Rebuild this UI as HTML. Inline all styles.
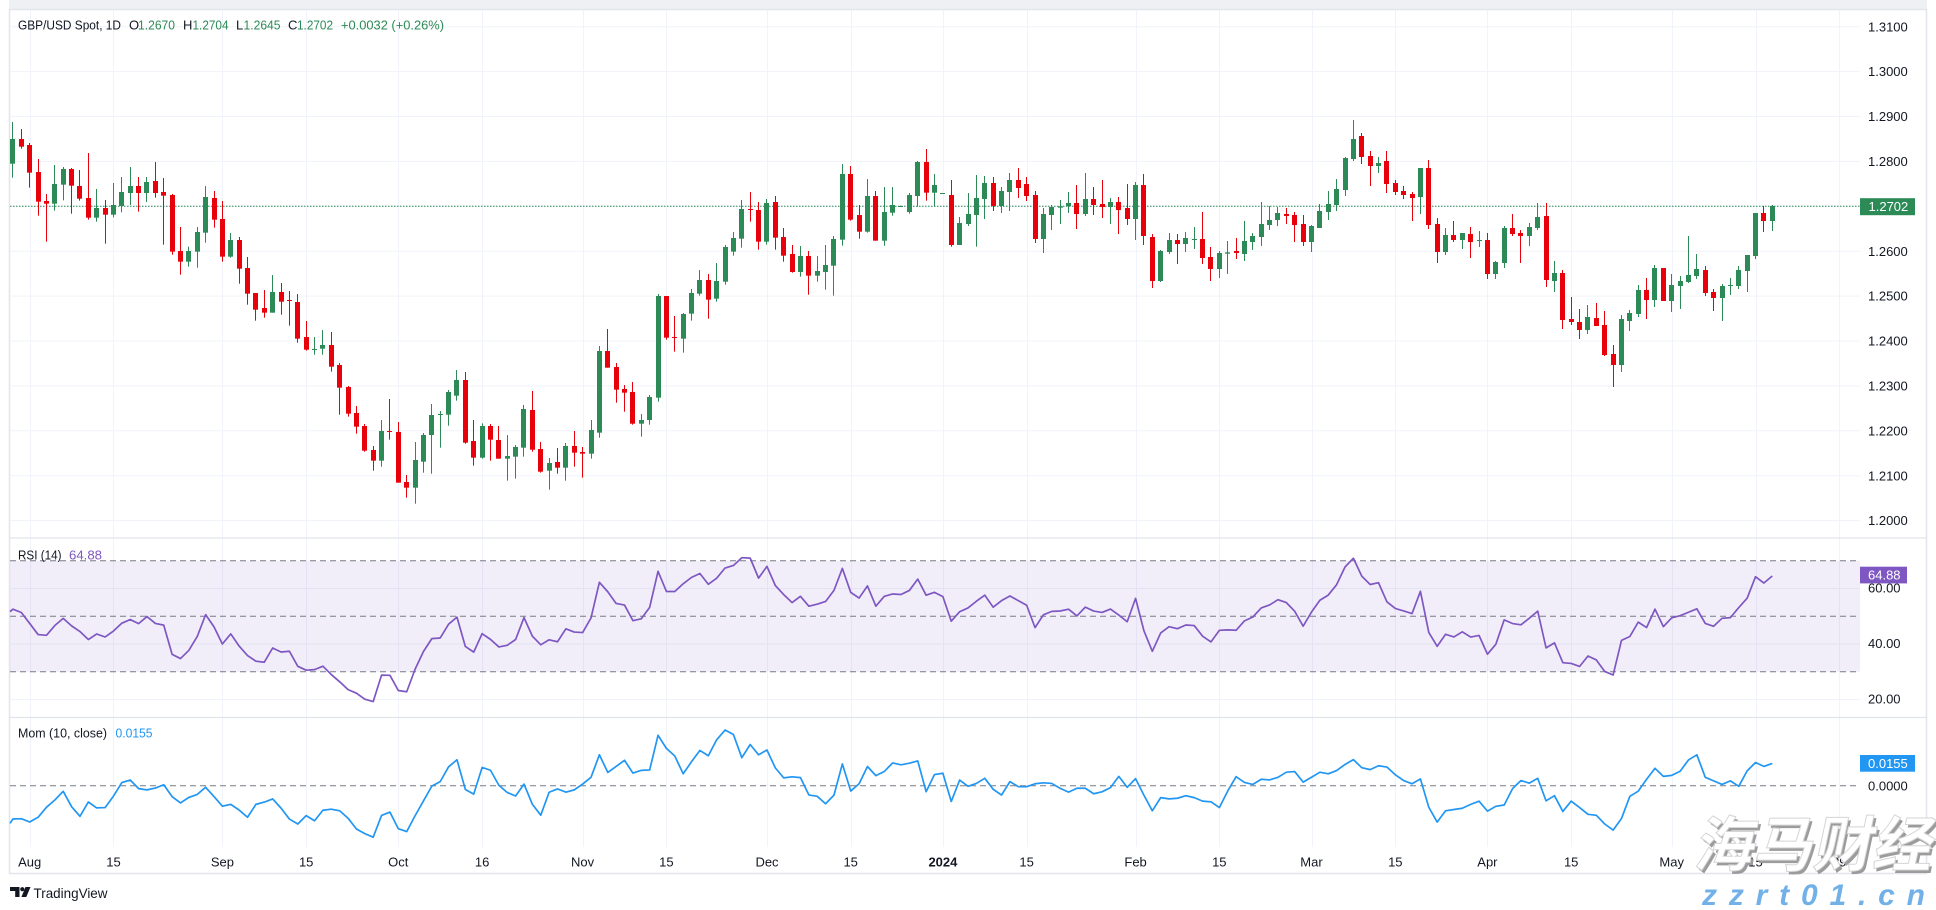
<!DOCTYPE html>
<html><head><meta charset="utf-8">
<style>
html,body{margin:0;padding:0;background:#fff;width:1936px;height:910px;overflow:hidden;}
svg{display:block;}
text{font-family:"Liberation Sans",Arial,sans-serif;}
</style></head>
<body>
<svg id="c" width="1936" height="910" viewBox="0 0 1936 910" xmlns="http://www.w3.org/2000/svg">
<rect x="0" y="0" width="1936" height="910" fill="#ffffff"/>
<!-- frame -->
<rect x="9" y="0" width="1918" height="10" fill="#eff0f4"/>
<rect x="9.5" y="9.5" width="1917" height="864" fill="#ffffff" stroke="#e3e5ec" stroke-width="1.5"/>
<g id="gridg"></g>
<!-- RSI band -->
<rect x="10" y="560.8" width="1850" height="111" fill="#7e57c2" fill-opacity="0.1"/>
<g stroke="#787b86" stroke-width="1" stroke-dasharray="6,4" fill="none">
<line x1="10" y1="560.8" x2="1860" y2="560.8"/>
<line x1="10" y1="616.3" x2="1860" y2="616.3"/>
<line x1="10" y1="671.8" x2="1860" y2="671.8"/>
<line x1="10" y1="785.7" x2="1860" y2="785.7"/>
</g>
<!-- pane separators -->
<line x1="10" y1="538" x2="1926" y2="538" stroke="#e0e3eb" stroke-width="1.2"/>
<line x1="10" y1="717.5" x2="1926" y2="717.5" stroke="#e0e3eb" stroke-width="1.2"/>
<!-- last price dotted line -->
<line x1="10" y1="206.3" x2="1860" y2="206.3" stroke="#2b8a55" stroke-width="1" stroke-dasharray="1.5,1.5"/>
<g id="dyn"></g>

<!-- header -->
<g font-size="13" fill="#131722">
<text x="18" y="29.5" textLength="103" lengthAdjust="spacingAndGlyphs">GBP/USD Spot, 1D</text>
<text x="129" y="29.5">O</text>
<text x="138" y="29.5" fill="#2b8a55" textLength="37" lengthAdjust="spacingAndGlyphs">1.2670</text>
<text x="183" y="29.5">H</text>
<text x="192.5" y="29.5" fill="#2b8a55" textLength="36" lengthAdjust="spacingAndGlyphs">1.2704</text>
<text x="236" y="29.5">L</text>
<text x="243.5" y="29.5" fill="#2b8a55" textLength="37" lengthAdjust="spacingAndGlyphs">1.2645</text>
<text x="288" y="29.5">C</text>
<text x="297" y="29.5" fill="#2b8a55" textLength="36" lengthAdjust="spacingAndGlyphs">1.2702</text>
<text x="341" y="29.5" fill="#2b8a55" textLength="103" lengthAdjust="spacingAndGlyphs">+0.0032 (+0.26%)</text>
</g>
<g font-size="13" fill="#131722">
<text x="18" y="559.5" textLength="43.5" lengthAdjust="spacingAndGlyphs">RSI (14)</text>
<text x="69" y="559.5" fill="#7e57c2" textLength="33" lengthAdjust="spacingAndGlyphs">64.88</text>
<text x="18" y="737.5" textLength="89" lengthAdjust="spacingAndGlyphs">Mom (10, close)</text>
<text x="115.5" y="737.5" fill="#2196f3" textLength="37" lengthAdjust="spacingAndGlyphs">0.0155</text>
</g>

<!-- price axis -->
<g font-size="13" fill="#131722">
<text x="1868" y="31.3">1.3100</text>
<text x="1868" y="76.2">1.3000</text>
<text x="1868" y="121.1">1.2900</text>
<text x="1868" y="166">1.2800</text>
<text x="1868" y="255.8">1.2600</text>
<text x="1868" y="300.7">1.2500</text>
<text x="1868" y="345.6">1.2400</text>
<text x="1868" y="390.5">1.2300</text>
<text x="1868" y="435.4">1.2200</text>
<text x="1868" y="480.3">1.2100</text>
<text x="1868" y="525.2">1.2000</text>
<text x="1868" y="592.4">60.00</text>
<text x="1868" y="647.9">40.00</text>
<text x="1868" y="703.4">20.00</text>
<text x="1868" y="790.3">0.0000</text>
</g>
<rect x="1860" y="198.2" width="55" height="17" fill="#2b8a55"/>
<text x="1868.5" y="211.2" font-size="13" fill="#ffffff">1.2702</text>
<rect x="1860" y="566.7" width="47" height="16.7" fill="#7e57c2"/>
<text x="1868" y="579.6" font-size="13" fill="#ffffff">64.88</text>
<rect x="1860" y="755" width="55" height="16.7" fill="#2196f3"/>
<text x="1868" y="768" font-size="13" fill="#ffffff">0.0155</text>

<!-- time axis -->
<g font-size="13" fill="#131722" text-anchor="middle">
<text x="29.7" y="866.3">Aug</text>
<text x="113.5" y="866.3">15</text>
<text x="222.4" y="866.3">Sep</text>
<text x="306.2" y="866.3">15</text>
<text x="398.3" y="866.3">Oct</text>
<text x="482.1" y="866.3">16</text>
<text x="582.6" y="866.3">Nov</text>
<text x="666.4" y="866.3">15</text>
<text x="767" y="866.3">Dec</text>
<text x="850.7" y="866.3">15</text>
<text x="942.9" y="866.3" font-weight="bold">2024</text>
<text x="1026.6" y="866.3">15</text>
<text x="1135.6" y="866.3">Feb</text>
<text x="1219.3" y="866.3">15</text>
<text x="1311.5" y="866.3">Mar</text>
<text x="1395.3" y="866.3">15</text>
<text x="1487.4" y="866.3">Apr</text>
<text x="1571.2" y="866.3">15</text>
<text x="1671.7" y="866.3">May</text>
<text x="1755.5" y="866.3">15</text>
<text x="1839.3" y="866.3">29</text>
</g>

<!-- TradingView logo -->
<g fill="#131722">
<path d="M10 887 H19.5 V897 H15.2 V891 H10 Z"/>
<circle cx="22.3" cy="889.2" r="2.1"/>
<path d="M25.5 887 H30.5 L26.3 897 H21.4 Z"/>
</g>
<text x="33.5" y="898" font-size="14" fill="#131722" textLength="74" lengthAdjust="spacingAndGlyphs">TradingView</text>

<!-- watermark -->
<g font-family="'Noto Sans CJK SC','WenQuanYi Zen Hei',sans-serif" font-size="60" font-weight="bold">
<text x="1696" y="869" fill="#9c9c9c" transform="skewX(-12) translate(184,0)" textLength="238" lengthAdjust="spacingAndGlyphs" style="font-family:'Noto Sans CJK SC','WenQuanYi Zen Hei',sans-serif">海马财经</text>
<text x="1693" y="866" fill="#ffffff" stroke="#d5d5d5" stroke-width="1" transform="skewX(-12) translate(184,0)" textLength="238" lengthAdjust="spacingAndGlyphs" style="font-family:'Noto Sans CJK SC','WenQuanYi Zen Hei',sans-serif">海马财经</text>
</g>
<text x="1702" y="905" font-size="30" font-weight="bold" font-style="italic" fill="#72b0e8" textLength="223" lengthAdjust="spacing">zzrt01.cn</text>
</svg>

<script>
(function(){
var A=[161,36,203,87, 87,57,116,110, 105,99,233,188, 186,147,317,275, 273,252,395,281, 281,165,302,222, 224,171,271,177, 177,174,311,227, 228,180,272,266, 264,129,329,323, 323,237,335,294, 294,270,401,314, 314,219,322,285, 288,201,307,246, 249,171,285,228, 228,201,305,249, 249,201,276,216, 213,156,263,249, 246,204,404,257, 255,252,434,425, 423,351,494,455, 455,410,470,423, 425,351,473,366, 368,228,398,261, 264,243,353,329, 327,273,455,440, 440,369,443,390, 390,381,521,476, 474,441,584,551, 549,549,632,599, 594,540,623,608, 608,495,608,546, 546,519,614,575, 570,543,647,572, 576,552,698,686, 681,633,722,719, 719,681,734,717, 716,660,734,705, 705,666,785,770, 765,759,914,833, 831,828,920,911, 909,888,971,950, 948,942,1025,1022, 1020,1008,1082,1052, 1052,930,1070,963, 963,867,989,965, 966,936,1118,1118, 1116,1095,1163,1133, 1133,996,1181,1050, 1055,969,1088,975, 975,882,1091,915, 914,903,1013,912, 914,840,947,846, 857,780,872,810, 810,786,1001,998, 993,930,1067,1043];
var B=[1043,940,1046,948, 948,942,1052,989, 990,948,1046,1046, 1046,975,1112,1038, 1040,1005,1106,1011, 1013,885,1040,897, 900,843,1025,1019, 1017,996,1088,1085, 1082,1044,1139,1059, 1056,1014,1091,1073, 1073,999,1112,1008, 1008,963,1070,1028, 1026,1011,1103,1031, 1031,930,1046,960, 968,708,983,723, 723,657,773,773, 771,759,878,839, 837,825,905,848, 846,816,944,941, 941,912,980,930, 930,855,944,861, 863,552,875,558, 558,558,689,683, 681,618,725,683, 686,609,728,612, 611,537,632,549, 551,480,557,510, 510,492,626,569, 566,459,575,513, 515,405,524,411, 425,366,437,384, 386,270,413,297, 297,246,335,299, 300,276,419,395, 395,267,404,279, 276,258,419,383, 381,354,455,437, 432,405,488,486, 486,408,500,438, 438,423,554,497, 497,438,515,483, 486,405,539,465, 467,378,557,387, 389,162,407,192, 192,168,332,329, 315,285,386,365, 365,207,368,258, 258,243,392,392, 392,231,407,306, 308,231,317,285, 290,287,291,288, 306,249,311,255, 258,153,290,156, 156,117,272,248, 248,192,290,225, 251,249,251,249];
var C=[285,240,440,435, 435,351,435,369, 372,279,378,342, 345,225,440,294, 297,228,357,249, 249,231,333,318, 318,261,339,273, 276,219,333,240, 240,204,294,264, 252,231,303,288, 285,273,429,417, 417,324,459,342, 345,315,390,321, 323,300,372,319, 318,276,339,309, 309,255,387,342, 342,219,348,297, 297,261,345,315, 312,240,354,321, 321,294,372,306, 306,291,402,330, 324,252,375,357, 357,246,420,255, 255,222,435,408, 411,402,564,543, 543,450,546,453, 456,399,462,420, 420,402,492,432, 432,396,456,414, 419,381,447,417, 417,336,492,474, 471,441,543,507, 507,453,534,459, 461,423,522,457, 453,414,477,459, 462,363,483,423, 426,399,450,408, 411,306,438,372, 375,318,390,360, 360,321,378,339, 342,324,372,348, 345,336,426,375, 372,345,438,426, 426,375,456,378, 384,312,384,333, 336,273,360,312, 315,237,333,267, 270,171,288,174, 177,60,183,117, 108,99,192,171, 168,153,258,198, 198,171,219,189, 183,153,279,252, 249,240,285,276, 273,258,297,285, 282,276,363,294];
var D=[291,204,342,204, 204,180,387,375, 372,354,489,456, 456,384,465,405, 405,363,426,420, 420,399,447,399, 402,381,474,426, 422,393,441,420, 420,399,537,522, 522,483,537,486, 489,378,504,384, 384,342,408,402, 399,390,489,408, 408,369,438,381, 384,309,390,351, 348,309,561,540, 543,483,576,519, 519,510,687,660, 657,591,675,666, 666,627,717,690, 690,615,702,651, 654,609,678,678, 675,633,768,765, 762,735,861,795, 795,645,816,657, 663,630,693,639, 642,555,651,570, 570,534,657,600, 600,495,621,504, 504,504,603,603, 603,522,636,555, 558,528,627,543, 546,408,549,525, 528,462,537,507, 510,498,588,579, 576,567,633,594, 594,552,663,558, 557,534,585,555, 558,498,567,510, 513,465,576,465, 468,339,477,339, 339,318,396,363, 363,315,393,318];
var chunks=[[-2,110,A],[54,110,B],[110,100,C],[166,100,D]];
var bars=[];
chunks.forEach(function(ch){
  var s=ch[0],off=ch[1],arr=ch[2];
  for(var k=0;k<arr.length/4;k++){
    var f=function(v){return off+v/3;};
    bars.push({i:s+k,o:f(arr[4*k]),h:f(arr[4*k+1]),l:f(arr[4*k+2]),c:f(arr[4*k+3])});
  }
});
var X=function(i){return 29.7+i*8.3778;};
var GREEN="#2b8a55",RED="#e8000b";
// grid
var g='';
var vIdx=[0,10,23,33,44,54,66,76,88,98,109,119,132,142,153,163,174,184,196,206,216];
vIdx.forEach(function(i){var x=Math.round(X(i))+0.5;g+='<line x1="'+x+'" y1="10" x2="'+x+'" y2="847" stroke="#f0f3fa" stroke-width="1"/>';});
for(var k=0;k<=11;k++){var y=26.7+k*44.9;g+='<line x1="10" y1="'+y.toFixed(1)+'" x2="1860" y2="'+y.toFixed(1)+'" stroke="#f0f3fa" stroke-width="1"/>';}
[588.55,644.05,699.55].forEach(function(y){g+='<line x1="10" y1="'+y+'" x2="1860" y2="'+y+'" stroke="#f0f3fa" stroke-width="1"/>';});
document.getElementById('gridg').innerHTML=g;
// candles
var s='';
bars.forEach(function(b){
  var up=b.c<b.o; var col=up?GREEN:RED;
  var left=Math.round(X(b.i)-2.5);
  var top=Math.min(b.o,b.c), h=Math.max(1,Math.abs(b.o-b.c));
  s+='<rect x="'+(left+2)+'" y="'+b.h.toFixed(2)+'" width="1" height="'+(b.l-b.h).toFixed(2)+'" fill="'+col+'"/>';
  s+='<rect x="'+left+'" y="'+top.toFixed(2)+'" width="5" height="'+h.toFixed(2)+'" fill="'+col+'"/>';
});
// RSI
var ag=13.3, al=12.0;
var rp=['10,611.7'];
var rsiY=function(r){return 616.3-(r-50)*2.775;};
rp.push(X(bars[0].i).toFixed(2)+','+rsiY(100*ag/(ag+al)).toFixed(2));
for(var n=1;n<bars.length;n++){
  var d=bars[n-1].c-bars[n].c;
  ag=(13*ag+Math.max(d,0))/14; al=(13*al+Math.max(-d,0))/14;
  rp.push(X(bars[n].i).toFixed(2)+','+rsiY(100*ag/(ag+al)).toFixed(2));
}
s+='<polyline points="'+rp.join(' ')+'" fill="none" stroke="#7e57c2" stroke-width="1.7" stroke-linejoin="round"/>';
// Momentum
var early=[819,818.7,822,817.3,807.3,800,791.3,806.7,816.3,802];
var mp=['10,823.3'];
for(var n2=0;n2<bars.length;n2++){
  var y;
  if(n2<10){y=early[n2];}
  else{y=785.7-(bars[n2-10].c-bars[n2].c)*0.32183;}
  mp.push(X(bars[n2].i).toFixed(2)+','+y.toFixed(2));
}
s+='<polyline points="'+mp.join(' ')+'" fill="none" stroke="#2196f3" stroke-width="1.7" stroke-linejoin="round"/>';
document.getElementById('dyn').innerHTML=s;
})();
</script>
</body></html>
